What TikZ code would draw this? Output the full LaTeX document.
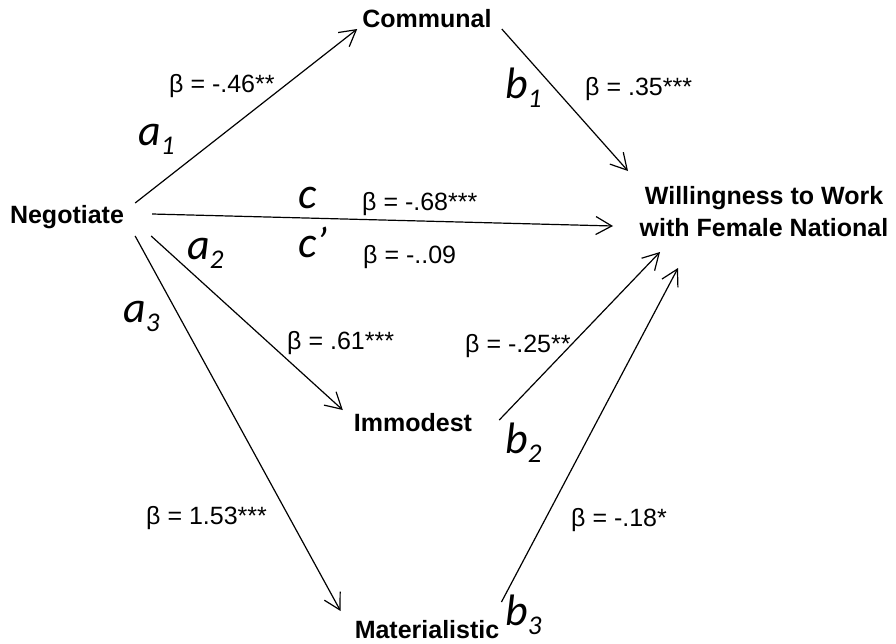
\documentclass[tikz,border=0pt]{standalone}
\usepackage{fontspec}
\setmainfont{Liberation Sans}
\newfontfamily\pathfont{Carlito}
\usetikzlibrary{arrows.meta}
\newcommand{\pathlbl}[2]{{\pathfont\itshape #1{\fontsize{27}{27}\selectfont\raisebox{-9pt}{#2}}}}

\begin{document}
\begin{tikzpicture}[x=1pt,y=-1pt,
  var/.style={font=\fontsize{25}{32}\selectfont\bfseries,inner sep=0pt,anchor=base},
  coef/.style={font=\fontsize{25}{30}\selectfont,inner sep=0pt,anchor=base west},
  plbl/.style={font=\fontsize{44}{44}\selectfont,inner sep=0pt,anchor=base west},
  arrow/.style={-{Straight Barb[length=16pt,width=18pt]},line width=1.2pt}]
  \useasboundingbox (0,0) rectangle (896,643);
  \node[var] (neg) at (67,223) {Negotiate};
  \node[var] (comm) at (427,27) {Communal};
  \node[var] (imm) at (413,431) {Immodest};
  \node[var] (mat) at (427,638) {Materialistic};
  \node[var,anchor=center,align=center] (will) at (764,212)
    {Willingness to Work\\with Female National};
  \draw[arrow] ([shift={(11,-20)}]neg.base east) -- ([shift={(-5,2)}]comm.base west);
  \draw[arrow] ([shift={(10,2)}]comm.base east) -- ([shift={(-136,-41)}]will.center);
  \draw[arrow] ([shift={(28,-9)}]neg.base east) -- ([shift={(-151,14)}]will.center);
  \draw[arrow] ([shift={(27,13)}]neg.base east) -- ([shift={(-11,-21)}]imm.base west);
  \draw[arrow] ([shift={(11,13)}]neg.base east) -- ([shift={(-14,-27)}]mat.base west);
  \draw[arrow] ([shift={(27,-11)}]imm.base east) -- ([shift={(-104,40)}]will.center);
  \draw[arrow] ([shift={(2,-36)}]mat.base east) -- ([shift={(-86,56)}]will.center);
  % coefficients
  \node[coef] (b46) at (169,92) {β = -.46**};
  \node[coef] (b35) at (585,95) {β = .35***};
  \node[coef] (b68) at (362,210) {β = -.68***};
  \node[coef] (b09) at (363,263) {β = -..09};
  \node[coef] (b61) at (287,349) {β = .61***};
  \node[coef] (b25) at (465,352) {β = -.25**};
  \node[coef] (b153) at (146,524) {β = 1.53***};
  \node[coef] (b18) at (571,526) {β = -.18*};
  % path names
  \node[plbl] (a1) at (138,145) {\pathlbl{a}{1}};
  \node[plbl] (a2) at (187,259) {\pathlbl{a}{2}};
  \node[plbl] (a3) at (123,322) {\pathlbl{a}{3}};
  \node[plbl] (b1) at (505,98) {\pathlbl{b}{1}};
  \node[plbl] (b2) at (505,453) {\pathlbl{b}{2}};
  \node[plbl] (b3) at (505,625) {\pathlbl{b}{3}};
  \node[plbl] (c) at (298,208) {\pathfont\itshape c};
  \node[plbl] (cp) at (298,257) {\pathfont\itshape c’};
\end{tikzpicture}
\end{document}
